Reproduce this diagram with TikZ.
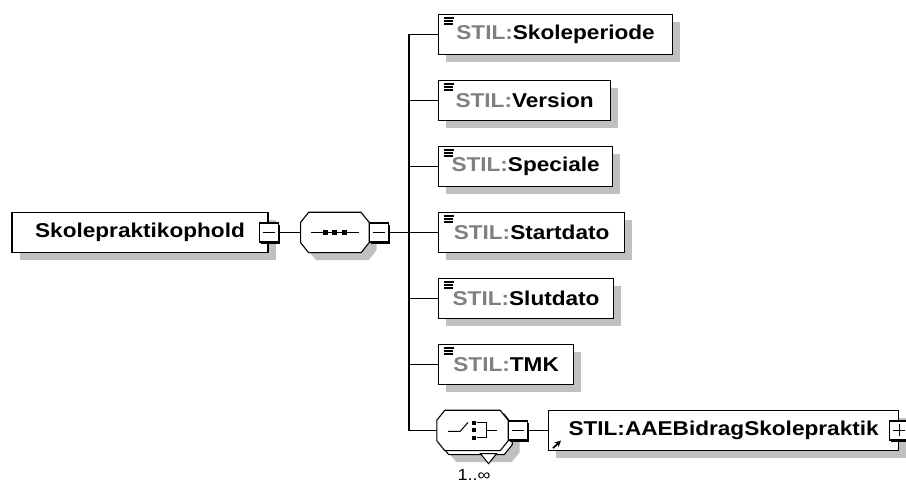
\documentclass[tikz,border=0pt]{standalone}
\usepackage{fontspec}
\setmainfont{Liberation Sans}[FakeStretch=1.13]
\usepackage{xcolor}
\usepackage{tikz}
\usetikzlibrary{shadows,arrows,positioning}
\definecolor{stilgray}{RGB}{128,128,128}
\definecolor{shadowgray}{RGB}{192,192,192}
\newcommand{\stilprefix}{\textcolor{stilgray}{STIL:}}
\tikzstyle{elementbox} = [rectangle, draw = black, line width=1.2pt, fill=white, minimum height=40pt, inner sep=0pt, font=\fontsize{20}{24}\selectfont\bfseries, drop shadow={shadow xshift=7.5pt, shadow yshift=-7.5pt, fill=shadowgray, opacity=1}]
\tikzstyle{childbox} = [elementbox, anchor=west, path picture={\draw[line width=1.4pt] ([xshift=5pt,yshift=-3.5pt]path picture bounding box.north west) -- ++(10pt,0pt); \draw[line width=1.4pt] ([xshift=5pt,yshift=-6.5pt]path picture bounding box.north west) -- ++(9pt,0pt); \draw[line width=1.4pt] ([xshift=5pt,yshift=-9.5pt]path picture bounding box.north west) -- ++(9pt,0pt);}]
\tikzstyle{compositor} = [rectangle, minimum height=40pt, inner sep=0pt]
\tikzstyle{octline} = [draw = black, line width=1.1pt, fill=white]
\tikzstyle{octshadow} = [drop shadow={shadow xshift=7.5pt, shadow yshift=-7.5pt, fill=shadowgray, opacity=1}]
\tikzstyle{btn} = [rectangle, draw = black, line width=1.1pt, fill=white, minimum size=19pt, inner sep=0pt, drop shadow={shadow xshift=1.6pt, shadow yshift=-1.6pt, fill=black, opacity=1}]
\tikzstyle{minusbtn} = [btn, path picture={\draw[line width=1pt] ([xshift=3.5pt]path picture bounding box.west) -- ([xshift=-3.5pt]path picture bounding box.east);}]
\tikzstyle{plusbtn} = [btn, path picture={\draw[line width=1pt] ([xshift=3.5pt]path picture bounding box.west) -- ([xshift=-3.5pt]path picture bounding box.east); \draw[line width=1pt] ([yshift=3.5pt]path picture bounding box.south) -- ([yshift=-3.5pt]path picture bounding box.north);}]
\tikzstyle{treeline} = [line width=1.2pt, draw = black]
% octagon outline round a compositor node
\newcommand{\drawoctagon}[2][]{\draw[octline,#1] ([xshift=8pt]#2.north west) -- ([xshift=-8pt]#2.north east) -- ([yshift=-10pt]#2.north east) -- ([yshift=10pt]#2.south east) -- ([xshift=-8pt]#2.south east) -- ([xshift=8pt]#2.south west) -- ([yshift=10pt]#2.south west) -- ([yshift=-10pt]#2.north west) -- cycle;}

\begin{document}
\begin{tikzpicture}[x=1pt, y=-1pt]
\useasboundingbox (0,0) rectangle (906,486);

\node(root) [elementbox, minimum width=256pt] at (140,232.5) {Skolepraktikophold};
\node(rootbtn) [minusbtn] at (root.east) {};
\node(seq) [compositor, minimum width=68pt, right = 22pt of rootbtn] {};
\drawoctagon[octshadow]{seq}
\node(seqbtn) [minusbtn, anchor=west] at (seq.east) {};
\coordinate (fork) at (409,232.5);

% sequence symbol
\draw[line width=1pt] ([xshift=-24pt]seq.center) -- ([xshift=24pt]seq.center);
\fill ([shift={(-12pt,-2.5pt)}]seq.center) rectangle ++(5pt,5pt);
\fill ([shift={(-2.5pt,-2.5pt)}]seq.center) rectangle ++(5pt,5pt);
\fill ([shift={(7pt,-2.5pt)}]seq.center) rectangle ++(5pt,5pt);

\node(skoleperiode) [childbox, minimum width=234pt] at (438,34.5) {\stilprefix Skoleperiode};
\node(version)      [childbox, minimum width=172pt] at (438,100.5) {\stilprefix Version};
\node(speciale)     [childbox, minimum width=174pt] at (438,166.5) {\stilprefix Speciale};
\node(startdato)    [childbox, minimum width=186pt] at (438,232.5) {\stilprefix Startdato};
\node(slutdato)     [childbox, minimum width=175pt] at (438,298.5) {\stilprefix Slutdato};
\node(tmk)          [childbox, minimum width=135pt] at (438,364.5) {\stilprefix TMK};

\node(choiceback) [compositor, minimum width=71pt] at (476.5,434.5) {};
\drawoctagon[octshadow]{choiceback}
\node(choice) [compositor, minimum width=71pt] at (472.5,430.5) {};
\drawoctagon{choice}
\node(choicebtn) [minusbtn, anchor=west] at (choice.east) {};
\node(choiceocc) [font=\fontsize{16}{18}\selectfont] at (474,475) {1..∞};

% choice symbol
\draw[line width=1pt] ([shift={(-24.5pt,-1pt)}]choice.center) -- ([shift={(-12.5pt,-1pt)}]choice.center) -- ([shift={(-4.5pt,8pt)}]choice.center);
\fill ([shift={(-0.5pt,5.5pt)}]choice.center) rectangle ++(4pt,4pt);
\fill ([shift={(-0.5pt,-2pt)}]choice.center) rectangle ++(4pt,4pt);
\fill ([shift={(-0.5pt,-9.5pt)}]choice.center) rectangle ++(4pt,4pt);
\draw[line width=1pt] ([shift={(4pt,7.5pt)}]choice.center) -- ([shift={(13.5pt,7.5pt)}]choice.center) -- ([shift={(13.5pt,-7.5pt)}]choice.center) -- ([shift={(4pt,-7.5pt)}]choice.center);
\draw[line width=1pt] ([shift={(13.5pt,0pt)}]choice.center) -- ([shift={(24.5pt,0pt)}]choice.center);
\draw[line width=1pt, fill=white] ([shift={(8pt,-3pt)}]choice.south) -- ([shift={(24pt,-3pt)}]choice.south) -- ([shift={(16pt,-13pt)}]choice.south) -- cycle;

\node(aae) [elementbox, minimum width=350pt, anchor=west] at (548,430.5) {STIL:AAEBidragSkolepraktik};
\node(aaebtn) [plusbtn] at (aae.east) {};
\draw[->, >=stealth, line width=1.8pt] ([shift={(5pt,3pt)}]aae.south west) -- ([shift={(13pt,10.5pt)}]aae.south west);

\draw [treeline] (rootbtn) -- (seq);
\draw [treeline] (seqbtn) -- (fork);
\draw [treeline] (fork) |- (skoleperiode);
\draw [treeline] (fork) |- (version);
\draw [treeline] (fork) |- (speciale);
\draw [treeline] (fork) -- (startdato);
\draw [treeline] (fork) |- (slutdato);
\draw [treeline] (fork) |- (tmk);
\draw [treeline] (fork) |- (choice);
\draw [treeline] (choicebtn) -- (aae);

\end{tikzpicture}
\end{document}
